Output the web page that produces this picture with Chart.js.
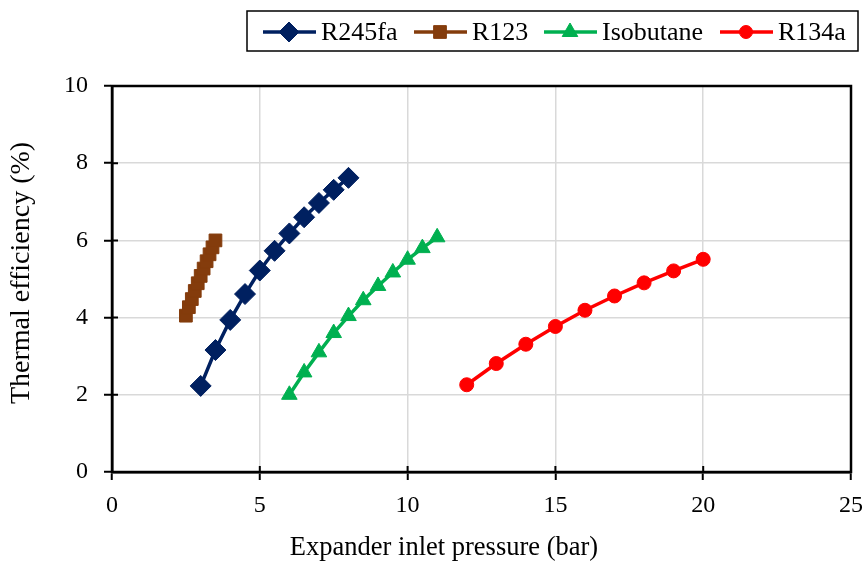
<!DOCTYPE html>
<html>
<head>
<meta charset="utf-8">
<script src="https://cdn.jsdelivr.net/npm/chart.js@4"></script>
<style>
  html, body { margin: 0; padding: 0; background: #fff; }
  #wrap { width: 868px; height: 565px; position: relative; }
</style>
</head>
<body>
<div id="wrap"><canvas id="chart"></canvas></div>
<script>
(function () {
    'use strict';

    // data
    const r245faX = [3, 3.5, 4, 4.5, 5, 5.5, 6, 6.5, 7, 7.5, 8];
    const r245faY = [2.23, 3.16, 3.94, 4.61, 5.22, 5.73, 6.18, 6.6, 6.97, 7.31, 7.62];
    const r123X = [2.5, 2.6, 2.7, 2.8, 2.9, 3.0, 3.1, 3.2, 3.3, 3.4, 3.5];
    const r123Y = [4.05, 4.27, 4.48, 4.69, 4.89, 5.08, 5.27, 5.46, 5.64, 5.82, 6.0];
    const isoX = [6, 6.5, 7, 7.5, 8, 8.5, 9, 9.5, 10, 10.5, 11];
    const isoY = [2.0, 2.58, 3.1, 3.6, 4.04, 4.45, 4.82, 5.17, 5.5, 5.8, 6.08];
    const r134aX = [12, 13, 14, 15, 16, 17, 18, 19, 20];
    const r134aY = [2.26, 2.81, 3.31, 3.77, 4.19, 4.56, 4.9, 5.21, 5.51];

    const xTicks = [0, 5, 10, 15, 20, 25];
    const yTicks = [0, 2, 4, 6, 8, 10];
    const xTitle = 'Expander inlet pressure (bar)';
    const yTitle = 'Thermal efficiency (%)';

    const FONT = '"Liberation Serif", "Times New Roman", serif';

    function pts(xs, ys) { return xs.map((x, i) => ({ x: x, y: ys[i] })); }

    const series = [
        { label: 'R245fa', xs: r245faX, ys: r245faY, color: '#002060', style: 'rectRot', r: 10.5, lr: 10 },
        { label: 'R123', xs: r123X, ys: r123Y, color: '#843c0c', style: 'rect', r: 9, lr: 9 },
        { label: 'Isobutane', xs: isoX, ys: isoY, color: '#00b050', style: 'triangle', r: 9, lr: 9 },
        { label: 'R134a', xs: r134aX, ys: r134aY, color: '#ff0000', style: 'circle', r: 7, lr: 6.5 }
    ];

    // legend in a bordered box (line + marker), plot frame, axis titles placed like the original
    const boxLegend = {
        id: 'boxLegend',
        afterDraw(chart) {
            const ctx = chart.ctx;
            ctx.save();
            ctx.strokeStyle = '#000';
            ctx.lineWidth = 1.5;
            ctx.strokeRect(247, 11, 611, 40);
            const starts = [263, 414, 544, 720];
            ctx.font = '26px ' + FONT;
            ctx.textBaseline = 'middle';
            series.forEach((s, i) => {
                const x0 = starts[i], y0 = 32;
                ctx.strokeStyle = s.color;
                ctx.lineWidth = 3.5;
                ctx.beginPath(); ctx.moveTo(x0, y0); ctx.lineTo(x0 + 53, y0); ctx.stroke();
                ctx.fillStyle = s.color;
                ctx.lineWidth = 1;
                Chart.helpers.drawPoint(ctx, { pointStyle: s.style, radius: s.lr, borderWidth: 1 }, x0 + 26, y0);
                ctx.fillStyle = '#000';
                ctx.fillText(s.label, x0 + 58, y0 + 1);
            });

            ctx.fillStyle = '#000';
            ctx.textAlign = 'center';
            ctx.font = '26.5px ' + FONT;
            ctx.fillText(xTitle, 444, 548);
            ctx.save();
            ctx.translate(22, 273);
            ctx.rotate(-Math.PI / 2);
            ctx.font = '28px ' + FONT;
            ctx.fillText(yTitle, 0, 0);
            ctx.restore();

            const a = chart.chartArea;
            ctx.strokeStyle = '#000';
            ctx.lineWidth = 2.5;
            ctx.strokeRect(a.left, a.top, a.right - a.left, a.bottom - a.top);
            // inner halves of the crossing tick marks
            ctx.lineWidth = 2;
            ctx.beginPath();
            yTicks.forEach(v => { const y = chart.scales.y.getPixelForValue(v); ctx.moveTo(a.left, y); ctx.lineTo(a.left + 6, y); });
            xTicks.forEach(v => { const x = chart.scales.x.getPixelForValue(v); ctx.moveTo(x, a.bottom); ctx.lineTo(x, a.bottom - 6); });
            ctx.stroke();
            ctx.restore();
        }
    };

    new Chart(document.getElementById('chart'), {
        type: 'scatter',
        data: {
            datasets: series.map(s => ({
                label: s.label,
                data: pts(s.xs, s.ys),
                showLine: true,
                borderColor: s.color,
                backgroundColor: s.color,
                borderWidth: 3.5,
                pointStyle: s.style,
                pointRadius: s.r,
                pointBorderWidth: 1,
                pointHoverRadius: s.r
            }))
        },
        options: {
            responsive: true,
            maintainAspectRatio: false,
            animation: false,
            layout: { padding: { top: 86, right: 17, left: 0, bottom: 0 } },
            plugins: { legend: { display: false }, tooltip: { enabled: false } },
            scales: {
                x: {
                    type: 'linear', min: 0, max: 25,
                    afterBuildTicks: sc => { sc.ticks = xTicks.map(v => ({ value: v })); },
                    afterFit: sc => { sc.height = 93; sc.paddingLeft = 0; sc.paddingRight = 0; },
                    grid: { color: '#d9d9d9', lineWidth: 1.5, tickLength: 8, tickColor: '#000', tickWidth: 2 },
                    border: { display: true, color: '#000', width: 2.5 },
                    ticks: { color: '#000', font: { family: FONT, size: 24 }, padding: 11, maxRotation: 0 }
                },
                y: {
                    type: 'linear', min: 0, max: 10,
                    afterBuildTicks: sc => { sc.ticks = yTicks.map(v => ({ value: v })); },
                    afterFit: sc => { sc.width = 112; sc.paddingTop = 0; sc.paddingBottom = 0; },
                    grid: { color: '#d9d9d9', lineWidth: 1.5, tickLength: 8, tickColor: '#000', tickWidth: 2 },
                    border: { display: true, color: '#000', width: 2.5 },
                    ticks: { color: '#000', font: { family: FONT, size: 24 }, padding: 16 }
                }
            }
        },
        plugins: [boxLegend]
    });
})();
</script>
</body>
</html>
